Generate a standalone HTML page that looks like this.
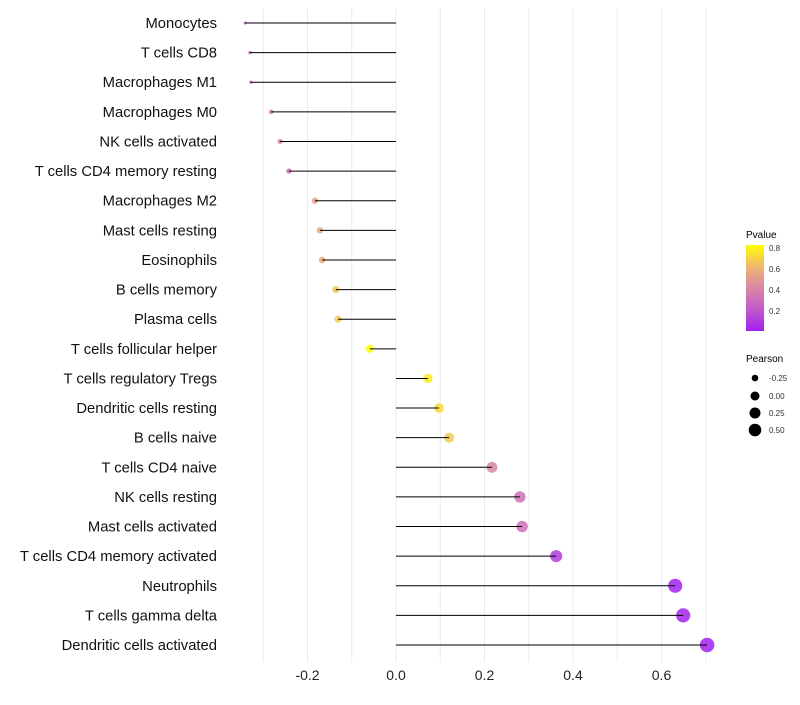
<!DOCTYPE html>
<html><head><meta charset="utf-8">
<style>
body{margin:0;background:#fff;font-family:"Liberation Sans",sans-serif;}
svg text{font-family:"Liberation Sans",sans-serif;}
</style></head>
<body>
<svg id="chart" width="800" height="700" xmlns="http://www.w3.org/2000/svg">
<defs>
<linearGradient id="pg" x1="0" y1="1" x2="0" y2="0">
<stop offset="0" stop-color="#a020f0"/>
<stop offset="0.25" stop-color="#c25acc"/>
<stop offset="0.5" stop-color="#d986a4"/>
<stop offset="0.75" stop-color="#f0b670"/>
<stop offset="1" stop-color="#ffff00"/>
</linearGradient>
</defs>
<g id="grid"></g>
<g id="dots"></g>
<g id="marks"></g>
<g id="labels"></g>
<g id="xticks"></g>
<g>
<text x="746" y="238" font-size="10" fill="#000">Pvalue</text>
<rect x="746" y="245" width="18" height="86" fill="url(#pg)"/>
<text x="769" y="251" font-size="8" fill="#333">0.8</text>
<text x="769" y="272" font-size="8" fill="#333">0.6</text>
<text x="769" y="293" font-size="8" fill="#333">0.4</text>
<text x="769" y="314" font-size="8" fill="#333">0.2</text>
</g>
<g>
<text x="746" y="362" font-size="10" fill="#000">Pearson</text>
<circle cx="755" cy="378" r="3.3" fill="#000"/><text x="769" y="381" font-size="8" fill="#333">-0.25</text>
<circle cx="755" cy="396" r="4.5" fill="#000"/><text x="769" y="399" font-size="8" fill="#333">0.00</text>
<circle cx="755" cy="413" r="5.5" fill="#000"/><text x="769" y="416" font-size="8" fill="#333">0.25</text>
<circle cx="755" cy="430" r="6.3" fill="#000"/><text x="769" y="433" font-size="8" fill="#333">0.50</text>
</g>
</svg>
<script>
const categories=["Monocytes","T cells CD8","Macrophages M1","Macrophages M0","NK cells activated","T cells CD4 memory resting","Macrophages M2","Mast cells resting","Eosinophils","B cells memory","Plasma cells","T cells follicular helper","T cells regulatory  Tregs","Dendritic cells resting","B cells naive","T cells CD4 naive","NK cells resting","Mast cells activated","T cells CD4 memory activated","Neutrophils","T cells gamma delta","Dendritic cells activated"];
const pearson=[-0.341,-0.330,-0.328,-0.282,-0.262,-0.242,-0.183,-0.172,-0.167,-0.136,-0.131,-0.059,0.072,0.097,0.120,0.217,0.280,0.285,0.362,0.631,0.649,0.703];
const pvalue=[0.2,0.25,0.25,0.35,0.35,0.3,0.5,0.55,0.55,0.65,0.65,0.8,0.75,0.7,0.65,0.4,0.3,0.3,0.1,0.01,0.02,0.005];
const xTicks=[-0.2,0.0,0.2,0.4,0.6];
const tickLabels=["-0.2","0.0","0.2","0.4","0.6"];

const NS="http://www.w3.org/2000/svg";
const xs=v=>396+v*442.5;
const ys=i=>23+i*29.62;
const rs=v=>Math.sqrt(Math.max(1.5,19+48.6*v));
const stops=[[0,[160,32,240]],[0.2,[194,90,204]],[0.4,[217,134,164]],[0.6,[240,182,112]],[0.8,[255,255,0]]];
function col(p){
  if(p>=0.8)p=0.8;
  for(let i=0;i<stops.length-1;i++){
    const [a,ca]=stops[i],[b,cb]=stops[i+1];
    if(p<=b){const t=(p-a)/(b-a);return "rgb("+ca.map((c,k)=>Math.round(c+(cb[k]-c)*t)).join(",")+")";}
  }
}
function mk(t,attrs,parent){const e=document.createElementNS(NS,t);for(const k in attrs)e.setAttribute(k,attrs[k]);parent.appendChild(e);return e;}
const grid=document.getElementById('grid'),marks=document.getElementById('marks'),dots=document.getElementById('dots'),labels=document.getElementById('labels'),xt=document.getElementById('xticks');
for(let v=-0.3;v<=0.71;v+=0.1){
  const g=mk('line',{x1:xs(v),x2:xs(v),y1:8,y2:662,stroke:"#ebebeb","stroke-width":1},grid);
  
  
}
xTicks.forEach((v,i)=>{
  const t=mk('text',{x:xs(v),y:680,"font-size":14,"text-anchor":"middle",fill:"#222"},xt);
  t.textContent=tickLabels[i];
  
  
});
categories.forEach((c,i)=>{
  const y=ys(i);
  const t=mk('text',{x:217,y:y+5,"font-size":14.8,"text-anchor":"end",fill:"#111"},labels);
  t.textContent=c;
  
  
  const d=mk('circle',{cx:xs(pearson[i]),cy:y,r:rs(pearson[i]),fill:col(pvalue[i]),"fill-opacity":0.85},dots);
  
  
  const l=mk('line',{x1:xs(0),x2:xs(pearson[i]),y1:y,y2:y,stroke:"#000","stroke-width":1},marks);
  
  
});
</script>
</body></html>
